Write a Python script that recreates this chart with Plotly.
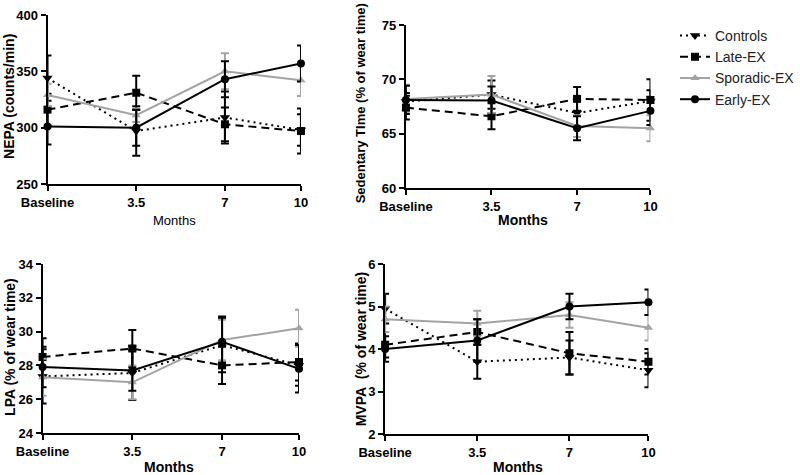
import plotly.graph_objects as go

months = [0, 3.5, 7, 10]
tick_labels = ["Baseline", "3.5", "7", "10"]
groups = ["Controls", "Late-EX", "Sporadic-EX", "Early-EX"]

# NEPA (counts/min)
nepa_mean = {
    "Controls":    [344, 297, 309, 298],
    "Late-EX":     [316, 331, 303, 297],
    "Sporadic-EX": [329, 311, 350, 342],
    "Early-EX":    [301, 300, 343, 357],
}
nepa_err = {
    "Controls":    [20, 22, 23, 14],
    "Late-EX":     [14, 15, 15, 20],
    "Sporadic-EX": [10, 6, 16, 14],
    "Early-EX":    [16, 16, 16, 16],
}
# Sedentary time (% of wear time)
sed_mean = {
    "Controls":    [67.95, 68.6, 66.9, 68.0],
    "Late-EX":     [67.4, 66.6, 68.2, 68.1],
    "Sporadic-EX": [68.2, 68.6, 65.7, 65.5],
    "Early-EX":    [68.1, 68.05, 65.5, 67.1],
}
sed_err = {
    "Controls":    [0.8, 1.3, 1.2, 1.0],
    "Late-EX":     [1.1, 1.2, 1.1, 1.9],
    "Sporadic-EX": [1.3, 1.7, 1.0, 1.2],
    "Early-EX":    [1.3, 1.3, 1.1, 1.3],
}
# LPA (% of wear time)
lpa_mean = {
    "Controls":    [27.35, 27.55, 29.2, 28.0],
    "Late-EX":     [28.5, 29.0, 28.0, 28.2],
    "Sporadic-EX": [27.3, 27.0, 29.5, 30.2],
    "Early-EX":    [27.9, 27.7, 29.4, 27.8],
}
lpa_err = {
    "Controls":    [1.6, 1.6, 1.6, 1.2],
    "Late-EX":     [1.1, 1.1, 1.1, 1.1],
    "Sporadic-EX": [1.1, 1.0, 1.2, 1.1],
    "Early-EX":    [1.2, 1.2, 1.5, 1.4],
}
# MVPA (% of wear time)
mvpa_mean = {
    "Controls":    [4.95, 3.7, 3.8, 3.5],
    "Late-EX":     [4.1, 4.4, 3.9, 3.7],
    "Sporadic-EX": [4.7, 4.6, 4.8, 4.5],
    "Early-EX":    [4.0, 4.2, 5.0, 5.1],
}
mvpa_err = {
    "Controls":    [0.35, 0.4, 0.4, 0.4],
    "Late-EX":     [0.3, 0.3, 0.5, 0.3],
    "Sporadic-EX": [0.3, 0.3, 0.3, 0.3],
    "Early-EX":    [0.3, 0.5, 0.3, 0.3],
}

styles = {
    "Controls":    dict(color="black", dash="2px,4px", symbol="triangle-down", size=9),
    "Late-EX":     dict(color="black", dash="8px,5px", symbol="square", size=8),
    "Sporadic-EX": dict(color="#a3a3a3", dash="solid", symbol="triangle-up", size=8),
    "Early-EX":    dict(color="black", dash="solid", symbol="circle", size=8),
}

W, H = 800, 475
def px_x(a, b):
    return [a / W, b / W]
def px_y(top, bottom):
    return [1 - bottom / H, 1 - top / H]

panels = [
    dict(mean=nepa_mean, err=nepa_err, ytitle="NEPA (counts/min)", yr=[250, 400], dt=50,
         xd=px_x(48, 304), yd=px_y(15, 184), bold_x=False,
         yt=(9, 96), xt=(176, 220), ysz=14),
    dict(mean=sed_mean, err=sed_err, ytitle="Sedentary TIme (% of wear time)", yr=[60, 75], dt=5,
         xd=px_x(410, 657), yd=px_y(25, 188), bold_x=True,
         yt=(364, 103), xt=(528, 220), ysz=13),
    dict(mean=lpa_mean, err=lpa_err, ytitle="LPA (% of wear time)", yr=[24, 34], dt=2,
         xd=px_x(43, 302), yd=px_y(264, 433), bold_x=True,
         yt=(10, 347), xt=(171, 467), ysz=14),
    dict(mean=mvpa_mean, err=mvpa_err, ytitle="MVPA\u00a0 (% of wear time)", yr=[2, 6], dt=1,
         xd=px_x(389, 655), yd=px_y(264, 434), bold_x=True,
         yt=(365, 349), xt=(523, 467), ysz=14),
]

fig = go.Figure()
FONT = "Liberation Sans, Arial, sans-serif"
annotations = []

for i, p in enumerate(panels, start=1):
    xa = "x" if i == 1 else f"x{i}"
    ya = "y" if i == 1 else f"y{i}"
    for g in groups:
        s = styles[g]
        fig.add_trace(go.Scatter(
            x=months, y=p["mean"][g], name=g, xaxis=xa, yaxis=ya,
            mode="lines+markers", showlegend=(i == 1), cliponaxis=False,
            line=dict(color=s["color"], width=2, dash=s["dash"]),
            marker=dict(color=s["color"], symbol=s["symbol"], size=s["size"]),
            error_y=dict(type="data", array=p["err"][g], color=s["color"],
                         thickness=2, width=4),
        ))
    xkey = "xaxis" if i == 1 else f"xaxis{i}"
    ykey = "yaxis" if i == 1 else f"yaxis{i}"
    fig.update_layout(**{
        xkey: dict(
            domain=p["xd"], anchor=ya, range=[0, 10], automargin=False,
            tickmode="array", tickvals=months, ticktext=tick_labels,
            showline=True, linecolor="black", linewidth=2,
            ticks="outside", ticklen=5, tickwidth=2, tickcolor="black",
            showgrid=False, zeroline=False,
            tickfont=dict(family=FONT, size=13, color="black", weight="bold"),
        ),
        ykey: dict(
            domain=p["yd"], anchor=xa, range=p["yr"], dtick=p["dt"],
            tick0=p["yr"][0], automargin=False,
            showline=True, linecolor="black", linewidth=2,
            ticks="outside", ticklen=5, tickwidth=2, tickcolor="black",
            showgrid=False, zeroline=False,
            tickfont=dict(family=FONT, size=13, color="black", weight="bold"),
        ),
    })
    annotations.append(dict(
        text=p["ytitle"], xref="paper", yref="paper", showarrow=False,
        x=p["yt"][0] / W, y=1 - p["yt"][1] / H, xanchor="center", yanchor="middle",
        textangle=-90, font=dict(family=FONT, size=p["ysz"], color="black", weight="bold"),
    ))
    annotations.append(dict(
        text="Months", xref="paper", yref="paper", showarrow=False,
        x=p["xt"][0] / W, y=1 - p["xt"][1] / H, xanchor="center", yanchor="middle",
        font=dict(family=FONT, size=14 if p["bold_x"] else 13, color="black",
                  weight="bold" if p["bold_x"] else "normal"),
    ))

fig.update_layout(
    width=W, height=H,
    margin=dict(l=0, r=0, t=0, b=0),
    paper_bgcolor="white", plot_bgcolor="white",
    font=dict(family=FONT, color="black"),
    annotations=annotations,
    legend=dict(x=682 / W, y=1 - 20 / H, xanchor="left", yanchor="top",
                font=dict(family=FONT, size=14, color="#222222"),
                bgcolor="rgba(0,0,0,0)", tracegroupgap=0),
)

fig.write_html(
    "out.html",
    config={"displayModeBar": False},
    post_script="document.body.style.margin='0';document.body.style.overflow='hidden';",
)
